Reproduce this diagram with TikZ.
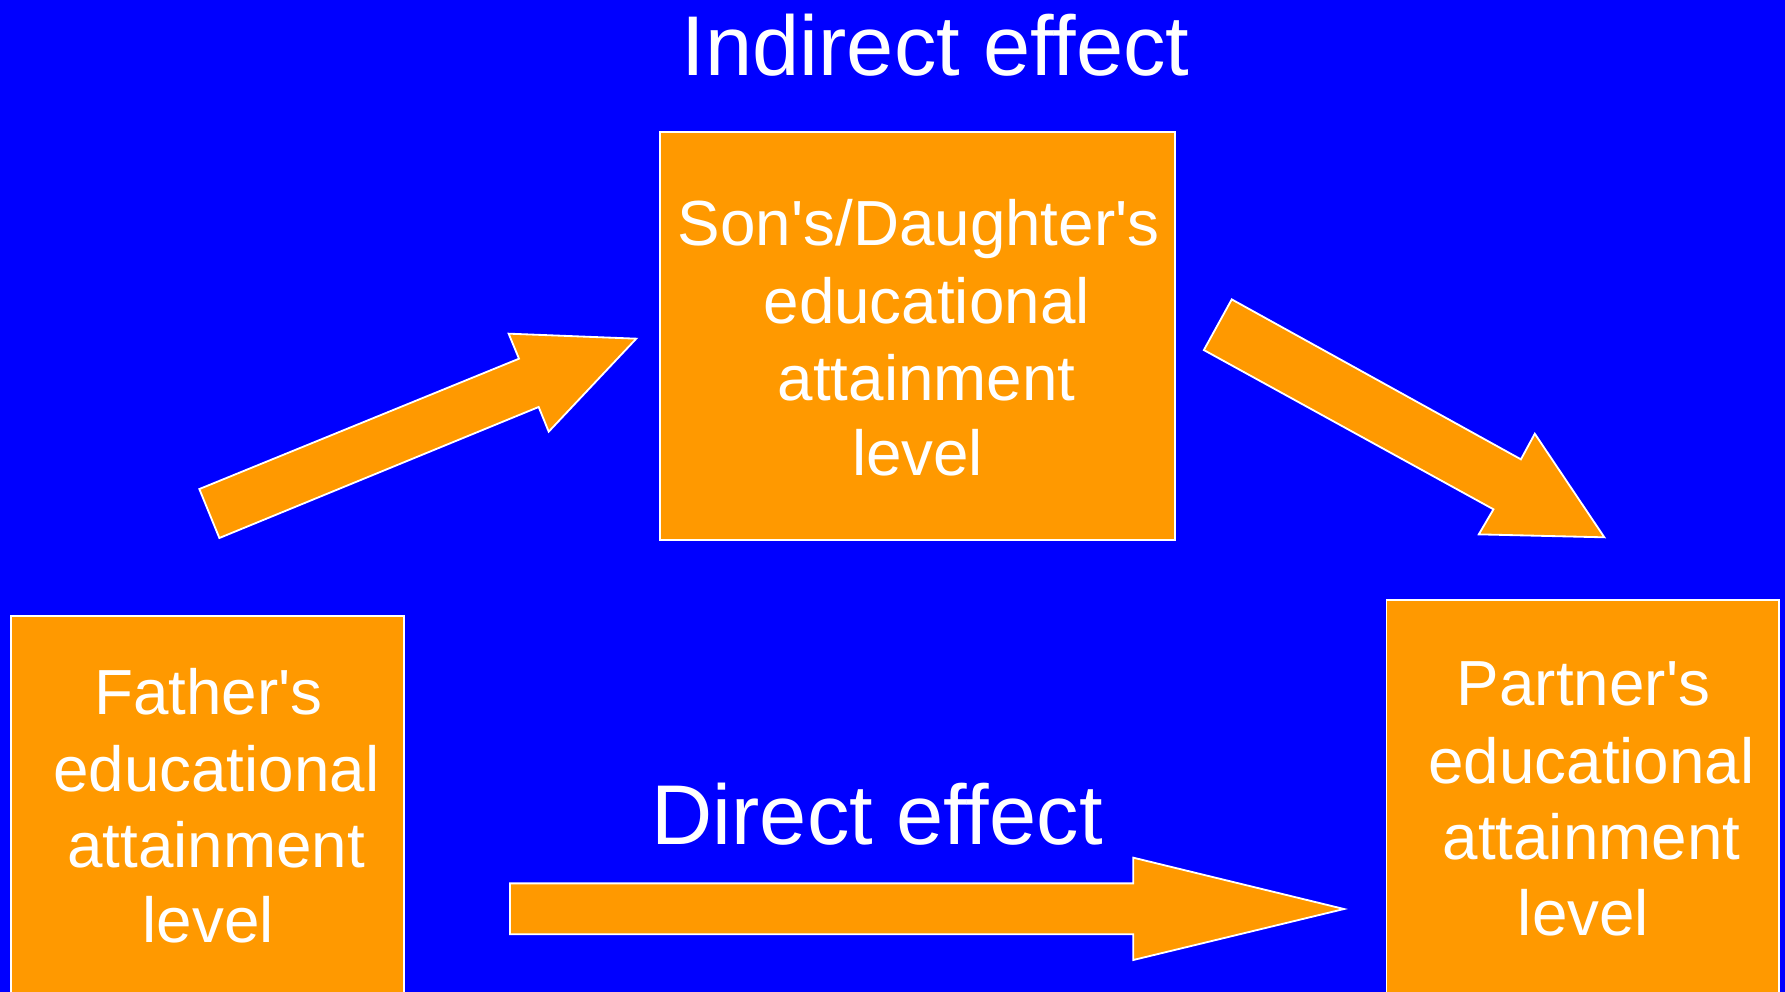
\documentclass[tikz,border=0pt]{standalone}
\usepackage{fontspec}
\setmainfont{Liberation Sans}[Ligatures={TeXOff,CommonOff}]
\definecolor{bg}{RGB}{0,0,255}
\definecolor{orng}{RGB}{255,153,0}
\begin{document}
\begin{tikzpicture}[x=0.5pt,y=-0.5pt,
  blockbox/.style={fill=orng,draw=white,line width=0.8pt,inner sep=0pt,outer sep=0pt,anchor=north west},
  blockarrow/.style={fill=orng,draw=white,line width=0.8pt,line join=miter},
  boxtext/.style={text=white,font=\fontsize{28}{33.75}\selectfont,anchor=base,inner sep=0pt},
  headtext/.style={text=white,font=\fontsize{37.25}{44}\selectfont,anchor=base,inner sep=0pt}]
\useasboundingbox (0,0) rectangle (1568,871);
\clip (0,0) rectangle (1568,871);
\fill[bg] (0,0) rectangle (1568,871);

% boxes
\node[blockbox,minimum width=226pt,minimum height=179pt] (son) at (580,116) {};
\node[blockbox,minimum width=172.5pt,minimum height=175pt] (father) at (10,541) {};
\node[blockbox,minimum width=172.5pt,minimum height=182pt] (partner) at (1218,527) {};

% box texts
\node[boxtext] (son1) at (807,216) {Son's/Daughter's};
\node[boxtext] (son2) at (814,284) {educational};
\node[boxtext] (son3) at (814,352) {attainment};
\node[boxtext] (son4) at (806,418) {level};

\node[boxtext] (fa1) at (183,628) {Father's};
\node[boxtext] (fa2) at (190,695) {educational};
\node[boxtext] (fa3) at (190,762) {attainment};
\node[boxtext] (fa4) at (183,828) {level};

\node[boxtext] (pa1) at (1391,620) {Partner's};
\node[boxtext] (pa2) at (1398,688) {educational};
\node[boxtext] (pa3) at (1398,755) {attainment};
\node[boxtext] (pa4) at (1391,822) {level};

% titles
\node[headtext] (indirect) at (822,66) {Indirect effect};
\node[headtext] (direct) at (770.5,742) {Direct effect};

% block arrows
\draw[blockarrow] (175.1,429.6) -- (455.9,315.1) -- (446.8,293.1) -- (558.9,297.5)
  -- (482,379.2) -- (473.2,357.5) -- (192.7,472.6) -- cycle;
\draw[blockarrow] (1082,263) -- (1336,403.5) -- (1348.2,381) -- (1409.3,472)
  -- (1299,469.4) -- (1311.9,447.4) -- (1057.5,307.5) -- cycle;
\draw[blockarrow] (448,776) -- (995.5,776) -- (995.5,753.4) -- (1180.6,798.5)
  -- (995.5,843.3) -- (995.5,820.7) -- (448,820.7) -- cycle;
\end{tikzpicture}
\end{document}
